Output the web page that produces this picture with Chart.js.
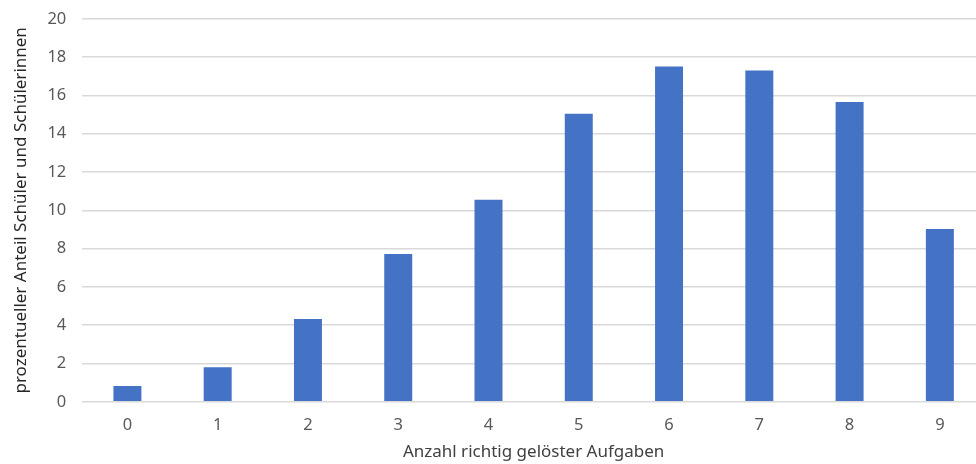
<!DOCTYPE html>
<html lang="de">
<head>
    <meta charset="UTF-8">
    <title>Anzahl richtig gelöster Aufgaben</title>
    <script src="https://cdn.jsdelivr.net/npm/chart.js"></script>
    <style>
        html, body { margin: 0; padding: 0; background: #fff; overflow: hidden; }
        /* canvas a bit larger than the window: the plot in the original runs past the right edge */
        #wrap { width: 988px; height: 471px; margin-top: -7px; }
    </style>
</head>
<body>
    <div id="wrap">
        <canvas id="barChart"></canvas>
    </div>

    <script>
        const categories = ['0', '1', '2', '3', '4', '5', '6', '7', '8', '9'];
        const anteil = [0.82, 1.8, 4.32, 7.72, 10.55, 15.05, 17.52, 17.31, 15.66, 9.03];
        const yMin = 0;
        const yMax = 20;
        const yStep = 2;

        const font = "'Noto Sans', sans-serif";

        const ctx = document.getElementById('barChart').getContext('2d');
        new Chart(ctx, {
            type: 'bar',
            data: {
                labels: categories,
                datasets: [{
                    data: anteil,
                    backgroundColor: '#4472c4',
                    barPercentage: 0.31,
                    categoryPercentage: 1
                }]
            },
            options: {
                responsive: true,
                maintainAspectRatio: false,
                animation: false,
                layout: { padding: { top: 1, left: 11, right: 3, bottom: 0 } },
                plugins: {
                    legend: { display: false },
                    tooltip: { enabled: false }
                },
                scales: {
                    x: {
                        grid: { display: false, drawTicks: false },
                        border: { display: false },
                        ticks: { color: '#595959', font: { family: font, size: 16.5 }, padding: 14 },
                        title: {
                            display: true,
                            text: 'Anzahl richtig gelöster Aufgaben',
                            color: '#404040',
                            font: { family: font, size: 17 },
                            padding: { top: -8, bottom: 2 }
                        }
                    },
                    y: {
                        min: yMin,
                        max: yMax,
                        ticks: { stepSize: yStep, color: '#595959', font: { family: font, size: 16.5 }, padding: 16 },
                        grid: { color: '#d9d9d9', lineWidth: 1.5, drawTicks: false },
                        border: { display: false },
                        title: {
                            display: true,
                            text: 'prozentueller Anteil Schüler und Schülerinnen',
                            color: '#262626',
                            font: { family: font, size: 17 },
                            padding: { top: 0, bottom: 0 }
                        }
                    }
                }
            }
        });
    </script>
</body>
</html>
